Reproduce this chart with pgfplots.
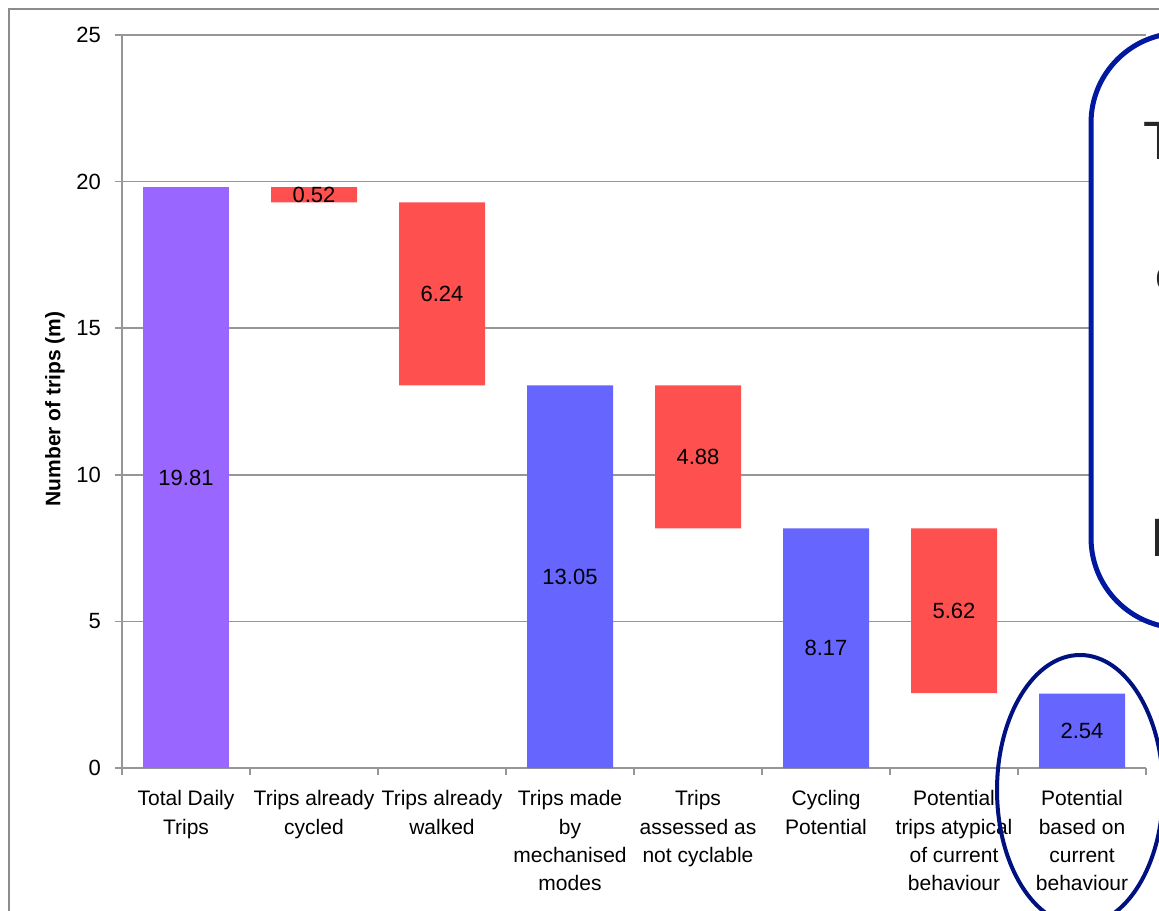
\documentclass[border=0pt]{standalone}
\usepackage{pgfplots}
\pgfplotsset{compat=1.18}
\usepackage{pgfplotstable}
\usepackage{fontspec}
\setmainfont{Liberation Sans}

\definecolor{gridgray}{RGB}{150,150,150}
\definecolor{framegray}{RGB}{140,140,140}
\definecolor{purplebar}{RGB}{153,102,255}
\definecolor{redbar}{RGB}{255,80,80}
\definecolor{bluebar}{RGB}{102,102,255}
\definecolor{boxblue}{RGB}{0,25,160}
\definecolor{ringblue}{RGB}{0,18,128}

% Waterfall of daily trips (millions): invisible base + visible segment
\pgfplotstableread{
x base  total  drop  sub
0 0     19.81  0     0
1 19.29 0      0.52  0
2 13.05 0      6.24  0
3 0     0      0     13.05
4 8.17  0      4.88  0
5 0     0      0     8.17
6 2.55  0      5.62  0
7 0     0      0     2.54
}\tripdata

% Value labels, set at the middle of each segment
\pgfplotstableread{
x mid    val
0 9.905  19.81
1 19.55  0.52
2 16.17  6.24
3 6.525  13.05
4 10.61  4.88
5 4.085  8.17
6 5.36   5.62
7 1.27   2.54
}\labeldata

\pgfplotsset{
  tripframe/.style={
    at={(61pt,71pt)}, anchor=south west,
    scale only axis, width=512pt, height=366.5pt,
    xmin=-0.5, xmax=7.5, ymin=0, ymax=25,
  },
}

\begin{document}
\begin{tikzpicture}
\useasboundingbox (0,0) rectangle (579.5pt,455pt);
\begin{scope}
\clip (0,0) rectangle (579.5pt,455pt);
\draw[framegray, line width=0.75pt] (4.5pt,-20pt) rectangle (700pt,450.5pt);
\begin{axis}[
  tripframe,
  ybar stacked, bar width=43pt,
  axis x line*=bottom, axis y line*=left,
  axis line style={draw=gridgray, line width=0.75pt, -},
  tick align=outside, major tick length=3.5pt,
  every tick/.style={draw=gridgray, line width=0.75pt},
  ytick={0,5,...,25},
  ymajorgrids, grid style={draw=gridgray, line width=0.75pt},
  /pgf/number format/assume math mode=true,
  yticklabel style={font=\fontsize{11}{13}\selectfont, text=black, xshift=-3.5pt},
  xtick={-0.5,0.5,...,7.5}, xticklabels={},
  extra x ticks={0,1,2,3,4,5,6,7},
  extra x tick style={major tick length=0pt, grid=none},
  extra x tick labels={{Total Daily\\Trips},{Trips already\\cycled},{Trips already\\walked},{Trips made\\by\\mechanised\\modes},{Trips\\assessed as\\not cyclable},{Cycling\\Potential},{Potential\\trips atypical\\of current\\behaviour},{Potential\\based on\\current\\behaviour}},
  xticklabel style={font=\fontsize{10.5}{14.2}\selectfont, align=center, anchor=north, inner sep=0pt, yshift=-11pt, text=black},
  ylabel={Number of trips (m)},
  every axis y label/.style={at={(axis description cs:0,0.49)}, xshift=-33.5pt, rotate=90, anchor=center, font=\bfseries\fontsize{10.5}{12}\selectfont},
]
\addplot[draw=none, fill=none] table[x=x, y=base] {\tripdata};
\addplot[draw=none, fill=purplebar] table[x=x, y=total] {\tripdata};
\addplot[draw=none, fill=redbar] table[x=x, y=drop] {\tripdata};
\addplot[draw=none, fill=bluebar] table[x=x, y=sub] {\tripdata};
\end{axis}
% value labels on the same frame
\begin{axis}[tripframe, hide axis, clip=false]
\addplot[only marks, mark=none, nodes near coords,
  point meta=explicit symbolic,
  every node near coord/.style={anchor=center, inner sep=0pt, text=black, font=\fontsize{11}{13}\selectfont}]
  table[x=x, y=mid, meta=val] {\labeldata};
\end{axis}
% callout box and highlight ring
\draw[boxblue, line width=2.5pt, fill=white, rounded corners=45pt] (545.5pt,141pt) rectangle (720pt,438.5pt);
\node[anchor=base west, inner sep=0pt, text=black!85, font=\fontsize{27}{30}\selectfont] at (571.5pt,375pt) {T};
\node[anchor=base west, inner sep=0pt, text=black!85, font=\fontsize{22}{26}\selectfont] at (577.5pt,309.5pt) {c};
\node[anchor=base west, inner sep=0pt, text=black!85, font=\fontsize{27}{30}\selectfont] at (575pt,176.5pt) {I};
\draw[ringblue, line width=2pt] (540pt,60pt) ellipse (41.5pt and 67.5pt);
\end{scope}
\end{tikzpicture}
\end{document}
